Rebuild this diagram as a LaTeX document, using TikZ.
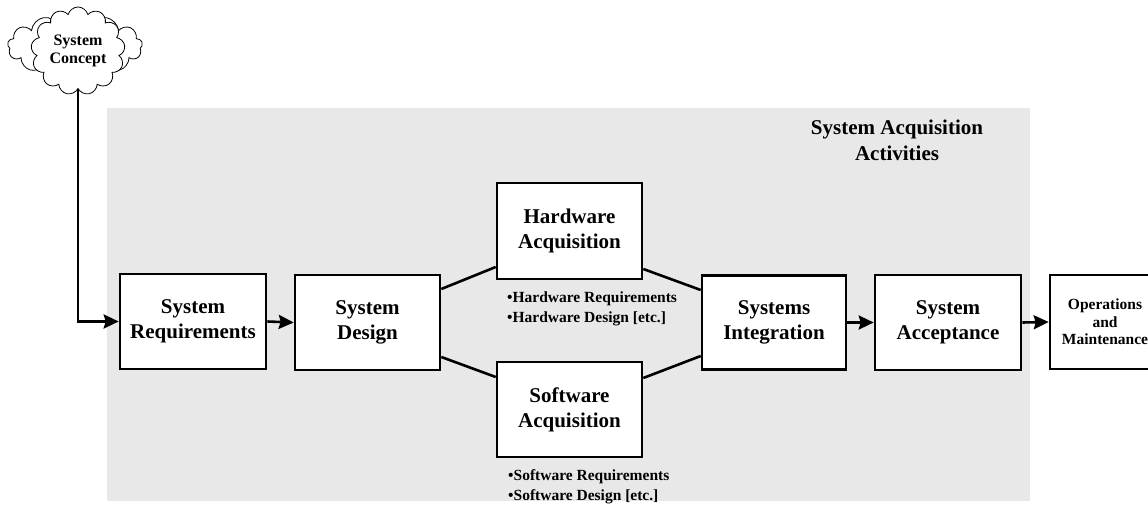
\documentclass[tikz,border=0pt]{standalone}
\usepackage{fontspec}
\setmainfont{Liberation Serif}
\usetikzlibrary{shapes.symbols,arrows.meta}
\definecolor{bggray}{RGB}{232,232,232}
\begin{document}
\begin{tikzpicture}[x=1pt,y=-1pt,
 box/.style={draw, line width=2.6pt, fill=white, align=center, font=\fontsize{21}{25}\selectfont\bfseries, inner sep=0pt, minimum width=145pt, minimum height=95pt},
 arr/.style={line width=2.6pt, -{Stealth[length=15pt,width=14pt,inset=2pt]}},
 con/.style={line width=2.6pt},
 note/.style={align=left, font=\fontsize{15.5}{20}\selectfont\bfseries, anchor=north west, inner sep=0pt},
 cloudshape/.style={cloud, cloud puffs=13, cloud ignores aspect, draw, line width=0.8pt, fill=white, inner sep=0pt}]
\clip (0,0) rectangle (1148,529);
\fill[white] (0,0) rectangle (1148,529);
\fill[bggray] (107,108) rectangle (1030,501);
% cloud
\node[cloudshape, minimum width=135pt, minimum height=64pt] (cloudback) at (75,46) {};
\node[cloudshape, minimum width=94pt, minimum height=88pt, align=center, font=\fontsize{16}{18}\selectfont\bfseries] (cloud) at (78,51) {System\\Concept};
% title
\node[font=\fontsize{21}{26}\selectfont\bfseries, align=center] (title) at (897,140) {System Acquisition\\Activities};
% boxes
\node[box, minimum width=146pt] (sr) at (193,321.5) {System\\Requirements};
\node[box] (sd) at (367.5,322.5) {System\\Design};
\node[box, minimum height=96pt] (hw) at (569.5,231) {Hardware\\Acquisition};
\node[box] (sw) at (569.5,409.5) {Software\\Acquisition};
\node[box, minimum width=144pt, minimum height=94pt] (si) at (774,322.5) {Systems\\Integration};
\node[box, minimum width=146pt] (sa) at (948,322.5) {System\\Acceptance};
\node[box, minimum width=110pt, minimum height=94pt, font=\fontsize{15.5}{17.5}\selectfont\bfseries] (om) at (1105,322) {Operations\\and\\Maintenance};
% notes
\node[note] (hwn) at (507,292) {\textbullet Hardware Requirements\\\textbullet Hardware Design [etc.]};
\node[note] (swn) at (508,469) {\textbullet Software Requirements\\\textbullet Software Design [etc.]};
% connectors
\draw[arr] (cloud.south) |- (sr.west);
\draw[arr] (sr.east) -- (sd.west);
\draw[con] ([yshift=33.5pt]sd.east) -- ([yshift=-36pt]hw.west);
\draw[con] ([yshift=-34.5pt]sd.east) -- ([yshift=32.5pt]sw.west);
\draw[con] ([yshift=-38pt]hw.east) -- ([yshift=32.5pt]si.west);
\draw[con] ([yshift=31.5pt]sw.east) -- ([yshift=-33.5pt]si.west);
\draw[arr] (si.east) -- (sa.west);
\draw[arr] (sa.east) -- (om.west);
\end{tikzpicture}
\end{document}
